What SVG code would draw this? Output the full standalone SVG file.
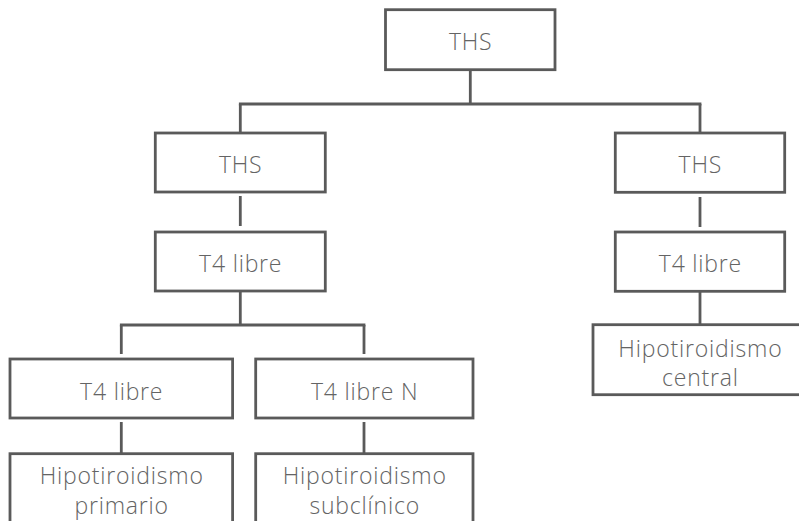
<svg xmlns="http://www.w3.org/2000/svg" width="799" height="521" viewBox="0 0 799 521">
  <style>
    .box { fill: #ffffff; stroke: #5a5a5a; stroke-width: 2.8; }
    .conn line { stroke: #5a5a5a; stroke-width: 2.8; }
    text { font-family: "Open Sans", "DejaVu Sans", sans-serif; font-weight: 300; font-size: 23px; fill: #646464; text-anchor: middle; letter-spacing: 0.8px; }
  </style>
  <rect width="799" height="521" fill="#ffffff"/>
  <g id="connectors" class="conn">
    <line x1="470.3" y1="69.7" x2="470.3" y2="104"/>
    <line x1="238.9" y1="104" x2="701.4" y2="104"/>
    <line x1="240.3" y1="104" x2="240.3" y2="133"/>
    <line x1="700" y1="104" x2="700" y2="133"/>
    <line x1="240.3" y1="196" x2="240.3" y2="226"/>
    <line x1="700" y1="197" x2="700" y2="227"/>
    <line x1="240.3" y1="291" x2="240.3" y2="325"/>
    <line x1="700" y1="291.3" x2="700" y2="324.7"/>
    <line x1="119.9" y1="325" x2="365.4" y2="325"/>
    <line x1="121.3" y1="325" x2="121.3" y2="354"/>
    <line x1="364" y1="325" x2="364" y2="354"/>
    <line x1="121.3" y1="422" x2="121.3" y2="453.7"/>
    <line x1="364" y1="422" x2="364" y2="453.7"/>
  </g>
  <g id="ths-root">
    <rect class="box" x="385.5" y="9.7" width="169.5" height="60"/>
    <text x="470.7" y="49.5">THS</text>
  </g>
  <g id="ths-left">
    <rect class="box" x="155.3" y="133" width="170" height="59"/>
    <text x="240.7" y="172.5">THS</text>
  </g>
  <g id="t4-left">
    <rect class="box" x="155.3" y="232" width="170" height="59"/>
    <text x="240.7" y="272">T4 libre</text>
  </g>
  <g id="ths-right">
    <rect class="box" x="615.3" y="133" width="169.4" height="59.3"/>
    <text x="700.4" y="172.5">THS</text>
  </g>
  <g id="t4-right">
    <rect class="box" x="615.3" y="232" width="169.4" height="59.3"/>
    <text x="700.4" y="272">T4 libre</text>
  </g>
  <g id="t4-low">
    <rect class="box" x="10" y="359" width="222.6" height="59"/>
    <text x="121.7" y="400">T4 libre</text>
  </g>
  <g id="t4-normal">
    <rect class="box" x="255.7" y="359" width="217.3" height="59"/>
    <text x="364.7" y="400">T4 libre N</text>
  </g>
  <g id="hipo-primario">
    <rect class="box" x="10" y="453.7" width="222.6" height="100"/>
    <text x="121.7" y="484">Hipotiroidismo</text>
    <text x="121.7" y="514">primario</text>
  </g>
  <g id="hipo-subclinico">
    <rect class="box" x="255.7" y="453.7" width="217.3" height="100"/>
    <text x="364.7" y="484">Hipotiroidismo</text>
    <text x="364.7" y="514">subclínico</text>
  </g>
  <g id="hipo-central">
    <rect class="box" x="593" y="324.7" width="214" height="70"/>
    <text x="700.4" y="357">Hipotiroidismo</text>
    <text x="700.4" y="386">central</text>
  </g>
</svg>
